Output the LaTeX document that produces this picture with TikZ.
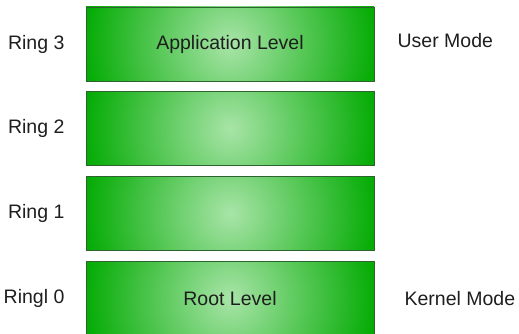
\documentclass[tikz,border=0pt]{standalone}
\usepackage{fontspec}
\setmainfont{Liberation Sans}
\usetikzlibrary{positioning}
\definecolor{leaf}{HTML}{00AA00}
\definecolor{glow}{HTML}{A8E4A8}
\definecolor{rim}{HTML}{2E622E}
\definecolor{ink}{HTML}{1E1E1E}

\begin{document}
\begin{tikzpicture}[node distance=10pt,
  level/.style={draw=rim,line width=0.8pt,fill=leaf,minimum width=288pt,minimum height=74pt,inner sep=0pt,text=ink,font=\fontsize{19.5}{22}\selectfont,
    path picture={\shade[inner color=glow,outer color=leaf] (path picture bounding box.center) circle (150pt);}},
  tag/.style={text=ink,font=\fontsize{19.5}{22}\selectfont,inner sep=0pt}]
\useasboundingbox (0,0) rectangle (519pt,-334pt);
\node[level] (r3) at (230pt,-44pt) {Application Level};
\node[level,below=of r3] (r2) {};
\node[level,below=of r2] (r1) {};
\node[level,below=of r1] (r0) {Root Level};
\node[tag,left=21pt of r3] (t3) {Ring 3};
\node[tag,left=21pt of r2] (t2) {Ring 2};
\node[tag,left=21pt of r1] (t1) {Ring 1};
\node[tag,left=21pt of r0] (t0) {Ringl 0};
\node[tag,right=23pt of r3,yshift=3pt] (user) {User Mode};
\node[tag,right=30pt of r0] (kernel) {Kernel Mode};
\end{tikzpicture}
\end{document}
